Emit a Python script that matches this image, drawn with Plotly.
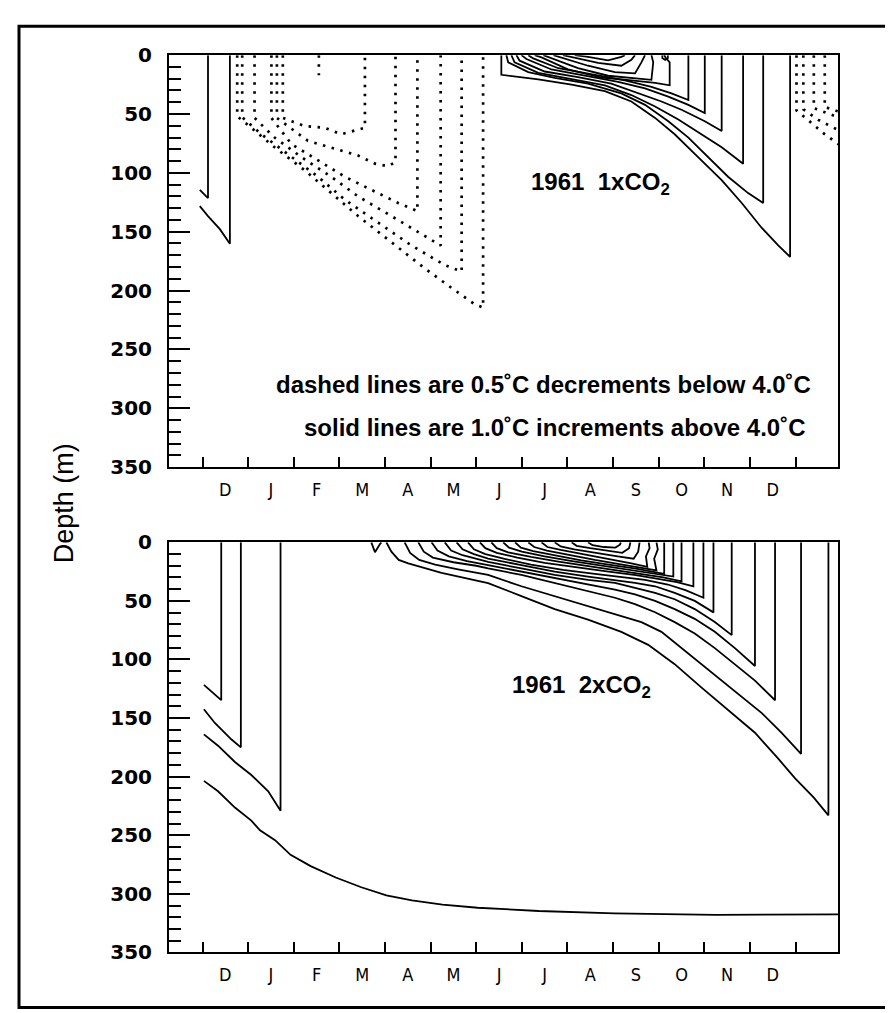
import plotly.graph_objects as go

# ---------------- axis labels ----------------
MONTH_LABELS = ["D", "J", "F", "M", "A", "M", "J", "J", "A", "S", "O", "N", "D"]
MONTH_LABEL_POS = [k + 0.5 for k in range(13)]      # label centred inside each month
MONTH_BOUNDARIES = list(range(14))                   # tick marks at month starts
DEPTH_TICKS = [0, 50, 100, 150, 200, 250, 300, 350]

# ---------------- 1961 1xCO2 (top panel) ----------------
# solid isotherms (>= 5 C), month index (0 = 1 Dec 1960) and depth (m)
top_solid_months = [
    [-0.06, 0.12, 0.12],
    [-0.06, 0.12, 0.38, 0.60, 0.60],
    [6.55, 6.55, 7.36, 8.09, 8.82, 9.40, 9.92, 10.35, 10.79, 11.38, 11.82, 12.25, 12.62, 12.88, 12.88],
    [6.66, 6.70, 7.14, 7.72, 8.45, 9.18, 9.70, 10.21, 10.65, 11.08, 11.52, 11.96, 12.29, 12.29],
    [6.77, 6.84, 7.36, 8.09, 8.82, 9.40, 9.92, 10.43, 10.94, 11.38, 11.85, 11.85],
    [6.88, 6.95, 7.50, 8.23, 8.96, 9.55, 10.06, 10.50, 11.01, 11.38, 11.38],
    [6.99, 7.10, 7.65, 8.38, 9.11, 9.70, 10.21, 10.65, 11.01, 11.01],
    [7.14, 7.25, 7.80, 8.53, 9.26, 9.84, 10.28, 10.65, 10.65],
    [7.28, 7.43, 8.01, 8.75, 9.40, 9.92, 10.24, 10.24, 10.15, 10.12],
    [7.47, 7.65, 8.23, 8.89, 9.40, 9.84, 9.88, 9.84],
    [7.69, 7.87, 8.45, 9.04, 9.48, 9.62, 9.70],
    [7.90, 8.16, 8.67, 9.18, 9.40, 9.48],
    [8.16, 8.45, 8.89, 9.18, 9.26],
    [10.08, 10.08, 10.14, 10.20, 10.20],
]
top_solid_depths = [
    [114.4, 121.4, 0],
    [128.3, 136.7, 147.8, 160.3, 0],
    [0, 16.7, 20.6, 25, 30.6, 39.4, 53.3, 67.2, 83.9, 106.1, 125.6, 146.4, 161.7, 171.4, 0],
    [0, 6.1, 14.4, 19.4, 24.2, 32.5, 42.2, 56.1, 70, 86.7, 103.3, 117.2, 125.6, 0],
    [0, 6.1, 15, 20, 25.6, 33.9, 43.6, 54.7, 67.2, 78.3, 92.2, 0],
    [0, 4.7, 13.9, 18.6, 24.2, 32.5, 39.4, 46.4, 56.1, 64.4, 0],
    [0, 3.3, 12.2, 17.2, 22.8, 28.3, 35.3, 42.2, 49.2, 0],
    [0, 2.8, 11.1, 16.1, 21.4, 26.9, 32.5, 38.1, 0],
    [0, 1.9, 12, 19, 21.5, 23.5, 25.6, 6.1, 2, 0],
    [0, 2.5, 11, 17.5, 19.5, 21, 6.1, 0],
    [0, 2, 9, 14.5, 15.5, 6.1, 0],
    [0, 2, 6.5, 9, 4, 0],
    [0, 1.5, 4.5, 1.5, 0],
    [0, 2.5, 4, 2.5, 0],
]
# dashed isotherms (< 4 C)
top_dash_months = [
    [0.76, 0.76, 1.07, 1.58, 2.24, 2.82, 3.41, 4.14, 4.87, 5.46, 5.97, 6.15, 6.15],
    [0.87, 0.87, 1.29, 1.95, 2.53, 3.12, 3.85, 4.58, 5.31, 5.68, 5.68],
    [1.14, 1.14, 1.58, 2.17, 2.82, 3.41, 4.14, 4.87, 5.22, 5.22],
    [1.51, 1.51, 1.95, 2.53, 3.12, 3.70, 4.29, 4.71, 4.71],
    [1.63, 1.63, 2.31, 3.04, 3.41, 3.78, 4.07, 4.23, 4.23],
    [1.76, 1.76, 2.24, 2.68, 3.04, 3.41, 3.56, 3.56],
    [2.55, 2.55],
    [13.02, 13.02, 13.30, 13.60, 13.95],
    [13.17, 13.17, 13.50, 13.95],
    [13.40, 13.40, 13.95],
    [13.64, 13.64, 13.95],
]
top_dash_depths = [
    [0, 51.9, 61.7, 78.3, 97.8, 117.2, 136.7, 158.9, 181.1, 197.8, 211.7, 214.4, 0],
    [0, 52.8, 67.2, 86.7, 103.3, 122.8, 142.2, 161.7, 178.3, 183.9, 0],
    [0, 53.3, 70, 86.7, 103.3, 120, 136.7, 153.3, 161.7, 0],
    [0, 53.3, 75.6, 89.4, 103.3, 114.4, 125.6, 132.5, 0],
    [0, 53.3, 72.8, 81.1, 85.3, 92.2, 94.4, 90.8, 0],
    [0, 53.3, 60.3, 61.7, 67.2, 63.1, 61.7, 0],
    [0, 17],
    [0, 47, 56, 66, 76],
    [0, 46, 55, 64],
    [0, 45, 53],
    [0, 44, 48],
]

# ---------------- 1961 2xCO2 (bottom panel) ----------------
bot_solid_months = [
    [0.03, 0.41, 0.41],
    [0.03, 0.27, 0.63, 0.84, 0.84],
    [0.03, 0.34, 0.71, 1.07, 1.44, 1.71, 1.71],
    [0.03, 0.34, 0.71, 1.07, 1.26, 1.59, 1.93, 2.37, 2.92, 3.48, 4.03, 4.59, 5.26, 6.03, 7.37, 9.03, 11.25, 13.95],
    [3.70, 3.78, 3.89, 3.92],
    [4.03, 4.14, 4.30, 4.51, 5.24, 5.97, 6.26, 6.99, 7.72, 8.45, 9.18, 9.77, 10.35, 10.94, 11.52, 12.11, 12.62, 12.99, 13.40, 13.72, 13.72],
    [4.43, 4.55, 4.75, 5.10, 5.60, 6.26, 6.99, 7.72, 8.45, 9.18, 9.62, 10.06, 10.50, 10.94, 11.38, 11.82, 12.26, 12.69, 13.12, 13.12],
    [4.73, 4.85, 5.05, 5.50, 6.00, 6.26, 6.99, 7.72, 8.45, 9.04, 9.48, 9.92, 10.35, 10.79, 11.23, 11.67, 12.11, 12.55, 12.55],
    [5.02, 5.15, 5.40, 5.80, 6.26, 6.99, 7.72, 8.45, 9.04, 9.48, 9.92, 10.35, 10.79, 11.23, 11.67, 12.11, 12.11],
    [5.31, 5.45, 5.70, 6.00, 6.26, 6.99, 7.72, 8.45, 9.04, 9.48, 9.92, 10.35, 10.79, 11.23, 11.60, 11.60],
    [5.57, 5.70, 5.95, 6.26, 6.99, 7.72, 8.45, 9.04, 9.48, 9.92, 10.35, 10.79, 11.20, 11.20],
    [5.82, 5.95, 6.20, 6.60, 7.20, 7.90, 8.60, 9.20, 9.70, 10.20, 10.60, 10.98, 10.98],
    [6.08, 6.20, 6.45, 6.90, 7.50, 8.20, 8.90, 9.50, 10.00, 10.40, 10.76, 10.76],
    [6.33, 6.45, 6.70, 7.20, 7.80, 8.50, 9.10, 9.60, 10.10, 10.50, 10.50],
    [6.59, 6.72, 7.00, 7.50, 8.10, 8.70, 9.30, 9.80, 10.32, 10.32],
    [6.85, 6.98, 7.25, 7.75, 8.30, 8.90, 9.50, 10.12, 10.12],
    [7.14, 7.27, 7.55, 8.05, 8.60, 9.20, 9.60, 9.95, 9.90, 9.98, 9.95],
    [7.43, 7.56, 7.85, 8.35, 8.90, 9.40, 9.75, 9.72, 9.80, 9.78],
    [7.72, 7.85, 8.15, 8.60, 9.10, 9.45, 9.55, 9.58],
    [8.09, 8.20, 8.50, 8.90, 9.20, 9.35, 9.38],
    [8.45, 8.55, 8.80, 9.05, 9.15, 9.17],
]
bot_solid_depths = [
    [121.7, 134.7, 0],
    [142.5, 154.2, 168.1, 175, 0],
    [163.9, 173.6, 187.5, 198.6, 212.5, 229.2, 0],
    [203.6, 212.5, 226.4, 237.5, 245.8, 254.2, 266.7, 276.4, 286.1, 294.4, 301.4, 305.6, 309.2, 311.9, 314.7, 316.7, 318, 317.5],
    [0, 8.4, 1.4, 0],
    [0, 8, 15, 18, 26, 32, 34.8, 45.9, 57, 66, 76.4, 87.5, 104, 124, 143, 162.5, 184.7, 201.4, 218, 233, 0],
    [0, 9, 15, 19, 23, 27.8, 37.5, 45.9, 54.2, 62.5, 68.1, 76.4, 90.3, 104.2, 118, 132, 145.8, 162.5, 180.6, 0],
    [0, 8, 13, 17, 20, 22.3, 27.8, 34.7, 41.7, 47.3, 52.8, 59.7, 68.1, 77.8, 90.3, 104.2, 118, 134.8, 0],
    [0, 7, 12, 16, 19.5, 25, 30.6, 36.1, 40.3, 44.5, 50, 57, 65.3, 76.4, 90.3, 105.6, 0],
    [0, 7, 11, 14, 16.7, 22.3, 27.8, 32, 34.7, 38.9, 43.1, 48.6, 57, 68.1, 79.2, 0],
    [0, 6, 10, 13.9, 19.5, 25, 29.2, 32, 34.7, 37.5, 43.1, 50, 59.8, 0],
    [0, 6, 10, 14, 19, 23.5, 27, 29.5, 32, 36, 41, 47.3, 0],
    [0, 5, 9, 13, 17.5, 21.5, 25, 28, 31, 34, 37.5, 0],
    [0, 5, 8.5, 12.5, 16.5, 20.5, 24, 27, 30, 33.4, 0],
    [0, 4.5, 8, 12, 16, 19.5, 23, 26, 29.2, 0],
    [0, 4.5, 7.5, 11.5, 15.5, 19, 22.5, 27, 0],
    [0, 4, 7, 11, 15, 19, 21.5, 24, 14, 6, 0],
    [0, 4, 6.5, 10, 14, 18, 21, 12, 5, 0],
    [0, 3.5, 6, 9, 12, 14, 8, 0],
    [0, 3, 5, 7.5, 9, 5, 0],
    [0, 2.5, 4, 4.5, 2, 0],
]

# ---------------- figure ----------------
fig = go.Figure()


def add_lines(months_list, depths_list, xa, ya, dash, width):
    for ms, ds in zip(months_list, depths_list):
        fig.add_trace(go.Scatter(
            x=ms, y=ds, mode="lines", xaxis=xa, yaxis=ya,
            line=dict(color="black", width=width, dash=dash),
            showlegend=False, hoverinfo="skip"))


add_lines(top_solid_months, top_solid_depths, "x", "y", "solid", 1.8)
add_lines(top_dash_months, top_dash_depths, "x", "y", "2.5px,6.5px", 2.7)
add_lines(bot_solid_months, bot_solid_depths, "x2", "y2", "solid", 1.8)

X_DOMAIN = [161 / 893, 830 / 893]
X_RANGE = [-0.735, 13.93]

MONTH_FONT = dict(family="DejaVu Sans Condensed, Liberation Sans, Arial, sans-serif",
                  size=18, color="black")
TICK_FONT = dict(family="DejaVu Sans, sans-serif", size=20, color="black", weight="bold")
TEXT_FONT = dict(family="Liberation Sans, Arial, sans-serif", size=24, color="black",
                 weight="bold")

xcommon = dict(
    range=X_RANGE, domain=X_DOMAIN, showline=True, mirror=True,
    linecolor="black", linewidth=2, showgrid=False, zeroline=False,
    tickmode="array", tickvals=MONTH_LABEL_POS, ticktext=MONTH_LABELS,
    ticks="", ticklabelstandoff=5, tickfont=MONTH_FONT,
    minor=dict(tickmode="array", tickvals=MONTH_BOUNDARIES, ticks="inside",
               ticklen=10, tickwidth=2, tickcolor="black", showgrid=False),
)
ycommon = dict(
    range=[350, 0], showline=True, mirror=True, linecolor="black", linewidth=2,
    showgrid=False, zeroline=False, tickmode="array", tickvals=DEPTH_TICKS,
    ticks="inside", ticklen=21, tickwidth=2, tickcolor="black",
    ticklabelstandoff=11, tickfont=TICK_FONT,
    minor=dict(tickmode="linear", tick0=0, dtick=10, ticks="inside",
               ticklen=12, tickwidth=2, tickcolor="black", showgrid=False),
)

fig.update_layout(
    width=893, height=1013, margin=dict(l=0, r=0, t=0, b=0),
    paper_bgcolor="white", plot_bgcolor="white", showlegend=False,
    xaxis=dict(anchor="y", **xcommon),
    yaxis=dict(anchor="x", domain=[1 - 458 / 1013, 1 - 36 / 1013], **ycommon),
    xaxis2=dict(anchor="y2", **xcommon),
    yaxis2=dict(anchor="x2", domain=[1 - 955 / 1013, 1 - 535 / 1013], **ycommon),
)

fig.add_annotation(x=8.72, y=109, xref="x", yref="y", showarrow=False,
                   xanchor="center", yanchor="middle",
                   text="1961\u00a0\u00a01xCO<sub>2</sub>", font=TEXT_FONT)
fig.add_annotation(x=13.38, y=280, xref="x", yref="y", showarrow=False,
                   xanchor="right", yanchor="middle",
                   text="dashed lines are 0.5\u02daC decrements below 4.0\u02daC", font=TEXT_FONT)
fig.add_annotation(x=13.28, y=316, xref="x", yref="y", showarrow=False,
                   xanchor="right", yanchor="middle",
                   text="solid lines are 1.0\u02daC increments above 4.0\u02daC", font=TEXT_FONT)
fig.add_annotation(x=8.30, y=123, xref="x2", yref="y2", showarrow=False,
                   xanchor="center", yanchor="middle",
                   text="1961\u00a0\u00a02xCO<sub>2</sub>", font=TEXT_FONT)
fig.add_annotation(x=56 / 893, y=1 - 495 / 1013, xref="paper", yref="paper", showarrow=False,
                   xanchor="center", yanchor="middle",
                   text="Depth (m)", textangle=-90,
                   font=dict(family="Liberation Sans, Arial, sans-serif", size=27, color="black"))

fig.add_shape(type="rect", xref="paper", yref="paper",
              x0=11 / 893, x1=888 / 893, y0=1.5 / 1013, y1=1 - 6.5 / 1013,
              line=dict(color="black", width=3), fillcolor="rgba(0,0,0,0)")

fig.write_html("out.html")
